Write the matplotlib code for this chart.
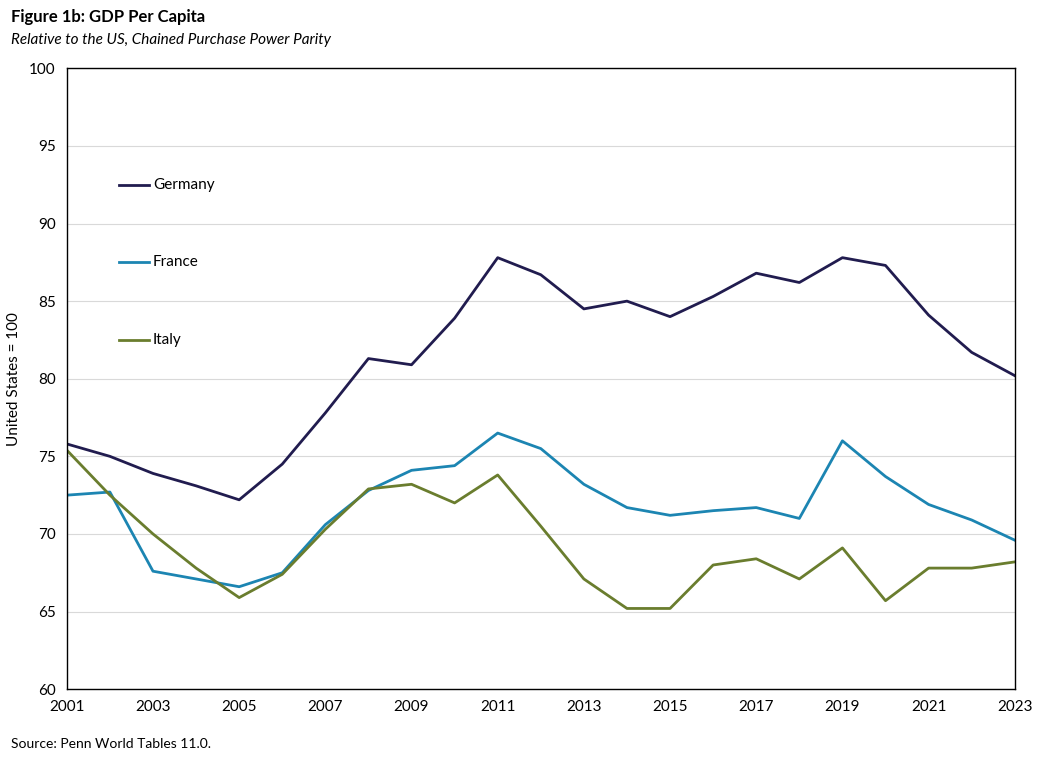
import matplotlib
matplotlib.use("Agg")
import matplotlib.pyplot as plt

years = list(range(2001, 2024))
germany = [75.8, 75.0, 73.9, 73.1, 72.2, 74.5, 77.8, 81.3, 80.9, 83.9, 87.8, 86.7, 84.5, 85.0, 84.0, 85.3, 86.8, 86.2, 87.8, 87.3, 84.1, 81.7, 80.2]
france = [72.5, 72.7, 67.6, 67.1, 66.6, 67.5, 70.6, 72.8, 74.1, 74.4, 76.5, 75.5, 73.2, 71.7, 71.2, 71.5, 71.7, 71.0, 76.0, 73.7, 71.9, 70.9, 69.6]
italy = [75.4, 72.5, 70.0, 67.8, 65.9, 67.4, 70.3, 72.9, 73.2, 72.0, 73.8, 70.5, 67.1, 65.2, 65.2, 68.0, 68.4, 67.1, 69.1, 65.7, 67.8, 67.8, 68.2]
series = [("Germany", germany, "#211c4f", 92.5), ("France", france, "#1c85b2", 87.5), ("Italy", italy, "#6a7d2e", 82.5)]

plt.rcParams['font.family'] = ['Lato', 'DejaVu Sans']
fig = plt.figure(figsize=(10.44, 7.59), dpi=100)
ax = fig.add_axes([0.064, 0.092, 0.908, 0.818])
for name, vals, c, ly in series:
    ax.plot(years, vals, color=c, lw=2)
    ax.plot([2002.2, 2002.9], [ly, ly], color=c, lw=2)
    ax.text(2003.0, ly, name, va='center', ha='left', fontsize=11)
ax.set_xlim(2001, 2023)
ax.set_ylim(60, 100)
ax.set_xticks(range(2001, 2024, 2))
ax.set_yticks(range(60, 101, 5))
ax.tick_params(axis='both', length=0, labelsize=11, pad=8)
ax.grid(axis='y', color='#d9d9d9', lw=0.8)
ax.set_axisbelow(True)
for s in ax.spines.values():
    s.set_color('black'); s.set_linewidth(1)
ax.set_ylabel("United States = 100", fontsize=11, labelpad=6)
fig.text(0.011, 0.977, "Figure 1b: GDP Per Capita", fontsize=12, fontweight='bold', va='center')
fig.text(0.011, 0.947, "Relative to the US, Chained Purchase Power Parity", fontsize=11, style='italic', va='center')
fig.text(0.011, 0.02, "Source: Penn World Tables 11.0.", fontsize=10, va='center')
fig.savefig("out.png", dpi=100)
